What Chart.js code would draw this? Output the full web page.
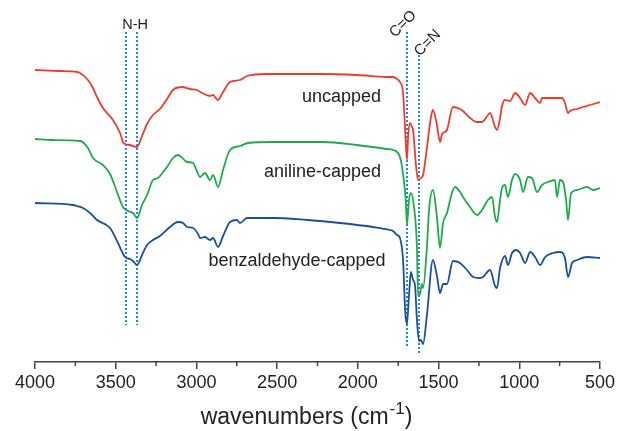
<!DOCTYPE html>
<html><head><meta charset="utf-8">
<script src="https://cdn.jsdelivr.net/npm/chart.js@4.4.1/dist/chart.umd.min.js"></script>
<style>html,body{margin:0;padding:0;background:#fff;}canvas{display:block;}</style>
</head><body>
<canvas id="c" width="618" height="431"></canvas>
<script>
// FTIR spectra (transmittance, arbitrary units, offset per trace)
const uncappedWn = [4000,3850,3740,3721,3672,3641,3616,3579,3517,3473,3455,3442,3412,3368,3337,3306,3269,3226,3182,3145,3089,3040,2996,2965,2916,2897,2880,2866,2835,2792,2730,2687,2563,2358,2234,2005,1819,1782,1757,1739,1720,1706,1696,1688,1677,1664,1658,1640,1627,1609,1596,1572,1550,1535,1510,1491,1480,1472,1448,1411,1367,1349,1305,1262,1231,1194,1181,1150,1138,1119,1107,1088,1057,1026,995,964,933,902,871,859,791,735,717,698,692,673,642,605,561,500];
const uncappedT  = [292,291,290,289,282,274,265,254,242,229,220,218,217,215,226,238,247,253,263,272,275,273,272,269,266,267,264,262,270,280,282,286,288,288,288,287,285,285,283,280,269,229,202,227,239,235,232,197,182,184,187,214,242,252,237,220,227,229,232,255,253,251,244,240,240,247,249,235,232,244,256,262,261,269,264,257,269,264,259,264,264,264,259,249,250,252,253,255,257,260];

const anilineWn = [4000,3900,3721,3672,3641,3579,3535,3492,3455,3424,3393,3368,3337,3306,3269,3238,3207,3182,3145,3114,3058,3021,3000,2978,2947,2916,2897,2866,2835,2792,2730,2680,2526,2216,2005,1819,1782,1739,1720,1702,1696,1683,1671,1652,1634,1627,1615,1603,1596,1572,1559,1535,1510,1491,1472,1448,1417,1398,1367,1349,1305,1262,1231,1194,1169,1150,1138,1119,1107,1088,1070,1045,1026,995,977,946,921,890,859,822,779,766,748,729,710,698,679,642,580,543,500];
const anilineT  = [223,222,221,214,204,197,188,170,155,151,149,144,157,167,182,184,190,195,204,207,200,199,192,185,189,182,187,175,192,212,216,219,220,220,217,213,212,205,188,159,137,162,169,155,115,66,68,78,74,115,152,172,145,114,139,149,169,175,170,165,155,147,152,162,165,145,140,162,174,177,165,182,188,182,170,185,184,170,177,180,182,165,182,180,162,142,169,172,175,172,174];

const benzWn = [4000,3765,3740,3703,3659,3616,3535,3486,3442,3412,3393,3368,3337,3306,3269,3226,3164,3114,3083,3058,3021,2990,2978,2947,2916,2897,2866,2835,2792,2749,2730,2687,2563,2526,2315,2111,1906,1801,1782,1757,1739,1720,1706,1696,1683,1671,1658,1646,1634,1621,1609,1596,1572,1535,1510,1491,1472,1448,1411,1367,1324,1286,1243,1225,1181,1150,1138,1119,1088,1070,1045,1020,995,964,933,902,871,840,791,748,717,698,673,642,580,500];
const benzT  = [159,157,156,154,149,142,134,119,105,103,101,97,107,117,122,126,135,140,139,135,134,128,124,125,122,124,115,126,140,142,139,144,144,144,142,139,135,132,131,127,124,102,49,38,67,90,82,77,42,21,22,18,47,102,86,69,78,78,101,99,92,85,84,85,92,76,74,94,106,97,109,112,109,99,110,105,97,105,109,110,104,85,99,102,105,104];

const xTickValues = [4000,3500,3000,2500,2000,1500,1000,500];
const minorTickValues = [3750,3250,2750,2250,1750,1250,750];
const bandWn = [3439, 3368, 1696, 1621];
const bandNames = ['N-H', 'C=O', 'C=N'];
const seriesNames = ['uncapped', 'aniline-capped', 'benzaldehyde-capped'];
const axisTitle = ['wavenumbers (cm', '-1', ')'];

const toXY = (w, t) => w.map((v, i) => ({x: v, y: t[i]}));
const FONT = "'Liberation Sans', Arial, sans-serif";

const annot = {
  id: 'annot',
  beforeDatasetsDraw(chart) {
    const {ctx, scales: {x, y}} = chart;
    ctx.save();
    ctx.strokeStyle = '#2289d8';
    ctx.lineWidth = 2;
    ctx.setLineDash([2, 2]);
    const ext = [[330, 37], [330, 37], [330, 15], [307, 9]];
    bandWn.forEach((w, i) => {
      const px = Math.round(x.getPixelForValue(w));
      ctx.beginPath();
      ctx.moveTo(px, Math.round(y.getPixelForValue(ext[i][0])));
      ctx.lineTo(px, Math.round(y.getPixelForValue(ext[i][1])));
      ctx.stroke();
    });
    ctx.restore();
  },
  afterDatasetsDraw(chart) {
    const {ctx, scales: {x, y}} = chart;
    ctx.save();
    ctx.fillStyle = '#222';
    // N-H label
    ctx.font = '14.5px ' + FONT;
    ctx.textAlign = 'center';
    ctx.textBaseline = 'alphabetic';
    ctx.fillText(bandNames[0], x.getPixelForValue(3380), y.getPixelForValue(333.5));
    // rotated labels
    ctx.font = '15px ' + FONT;
    const rot = [[1720, 338, bandNames[1]], [1568, 319, bandNames[2]]];
    rot.forEach(r => {
      ctx.save();
      ctx.translate(x.getPixelForValue(r[0]), y.getPixelForValue(r[1]));
      ctx.rotate(-Math.PI / 4);
      ctx.textBaseline = 'middle';
      ctx.fillText(r[2], 0, 0);
      ctx.restore();
    });
    // series labels
    ctx.font = '18px ' + FONT;
    const pos = [[2101, 260], [2219, 185], [2377, 96]];
    seriesNames.forEach((s, i) => {
      ctx.fillText(s, x.getPixelForValue(pos[i][0]), y.getPixelForValue(pos[i][1]));
    });
    ctx.restore();
  },
  afterDraw(chart) {
    const {ctx, scales: {x}} = chart;
    const base = chart.chartArea.bottom;
    ctx.save();
    ctx.strokeStyle = '#444';
    ctx.lineWidth = 1.5;
    minorTickValues.forEach(v => {
      const px = x.getPixelForValue(v);
      ctx.beginPath();
      ctx.moveTo(px, base);
      ctx.lineTo(px, base + 4);
      ctx.stroke();
    });
    // axis title with superscript
    ctx.fillStyle = '#222';
    ctx.textBaseline = 'alphabetic';
    ctx.textAlign = 'left';
    ctx.font = '23px ' + FONT;
    const w1 = ctx.measureText(axisTitle[0]).width;
    const w3 = ctx.measureText(axisTitle[2]).width;
    ctx.font = '17px ' + FONT;
    const w2 = ctx.measureText(axisTitle[1]).width;
    const total = w1 + w2 + w3 + 1;
    let sx = x.getPixelForValue(2318) - total / 2;
    const by = base + 62;
    ctx.font = '23px ' + FONT;
    ctx.fillText(axisTitle[0], sx, by);
    ctx.font = '17px ' + FONT;
    ctx.fillText(axisTitle[1], sx + w1 + 1, by - 10);
    ctx.font = '23px ' + FONT;
    ctx.fillText(axisTitle[2], sx + w1 + w2 + 1, by);
    ctx.restore();
  }
};

new Chart(document.getElementById('c'), {
  type: 'line',
  data: {
    datasets: [
      {label: seriesNames[0], data: toXY(uncappedWn, uncappedT), borderColor: '#ef3b2d'},
      {label: seriesNames[1], data: toXY(anilineWn, anilineT), borderColor: '#1faa4b'},
      {label: seriesNames[2], data: toXY(benzWn, benzT), borderColor: '#1b4f9c'}
    ]
  },
  options: {
    responsive: false,
    animation: false,
    devicePixelRatio: 1,
    layout: {padding: {left: 35, right: 18, top: 10, bottom: 0}},
    elements: {line: {borderWidth: 1.8, cubicInterpolationMode: 'monotone'}, point: {radius: 0}},
    plugins: {legend: {display: false}, tooltip: {enabled: false}},
    scales: {
      x: {
        type: 'linear',
        reverse: true,
        min: 500, max: 4000,
        afterBuildTicks: s => { s.ticks = xTickValues.map(v => ({value: v})); },
        afterFit: s => { s.height = 69; },
        ticks: {
          callback: v => String(v),
          font: {size: 18, family: FONT},
          color: '#222',
          padding: 3,
          maxRotation: 0,
          autoSkip: false
        },
        grid: {drawOnChartArea: false, drawTicks: true, tickLength: 7, color: '#444', lineWidth: 1.5},
        border: {display: true, color: '#444', width: 1.5}
      },
      y: {
        type: 'linear',
        display: false,
        min: 0, max: 352
      }
    }
  },
  plugins: [annot]
});
</script>
</body></html>
